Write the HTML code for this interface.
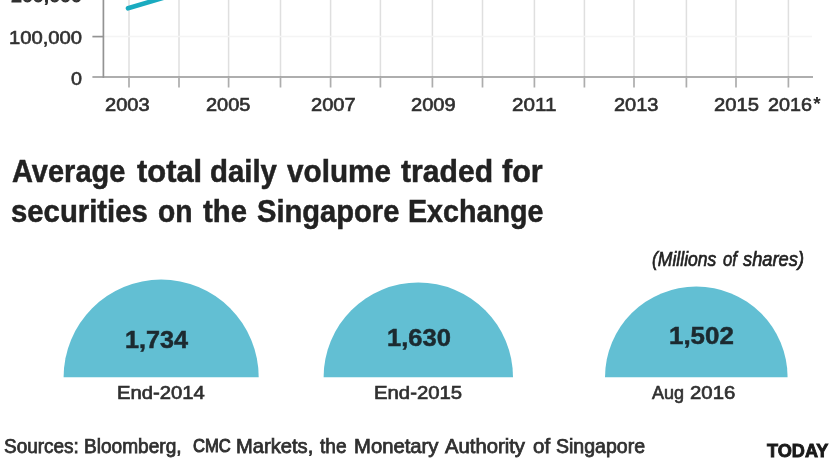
<!DOCTYPE html>
<html><head><meta charset="utf-8">
<style>
html,body{margin:0;padding:0;background:#fff;}
body{width:830px;height:468px;overflow:hidden;position:relative;font-family:"Liberation Sans",sans-serif;}
#wrap{position:absolute;left:-12px;top:-12px;width:854px;height:492px;filter:blur(0.75px);}
#in{position:absolute;left:12px;top:12px;width:830px;height:468px;}
.t{position:absolute;white-space:nowrap;line-height:1;transform-origin:0 0;}
svg{position:absolute;left:0;top:0;overflow:visible;}
</style></head><body>
<div id="wrap"><div id="in">
<svg width="830" height="468" viewBox="0 0 830 468">
  <g stroke="#dfdfdf" stroke-width="1.5" fill="none">
    <path d="M129 -12V77M179 -12V77M228.6 -12V77M280.5 -12V77M330.6 -12V77M380.4 -12V77M432.4 -12V77M482.5 -12V77M534.4 -12V77M584.4 -12V77M634 -12V77M686.4 -12V77M736 -12V77M788.4 -12V77"/>
    <path d="M104 36.6H812" stroke="#f4f4f4"/>
  </g>
  <g stroke="#939393" stroke-width="1.7" fill="none">
    <path d="M103.4 -12V77.8"/>
    <path d="M92.4 77H813"/>
    <path d="M92.4 36.6H103.4"/>
    <path stroke="#adadad" d="M129 77.8V87.4M179 77.8V87.4M228.6 77.8V87.4M280.5 77.8V87.4M330.6 77.8V87.4M380.4 77.8V87.4M432.4 77.8V87.4M482.5 77.8V87.4M534.4 77.8V87.4M584.4 77.8V87.4M634 77.8V87.4M686.4 77.8V87.4M736 77.8V87.4M788.4 77.8V87.4"/>
  </g>
  <path d="M128 8.3L192 -10.7" stroke="#1aabc0" stroke-width="4.6" stroke-linecap="round" fill="none"/>
  <g fill="#62bfd3">
    <path d="M63.6 377.3A97.55 97.7 0 0 1 258.7 377.3Z"/>
    <path d="M323.6 377.3A94.7 94.9 0 0 1 513 377.3Z"/>
    <path d="M605 377.3A91.3 90.9 0 0 1 787.6 377.3Z"/>
  </g>
  <text x="813.2" y="110.3" font-family="Liberation Sans" font-size="19" font-weight="bold" fill="#2b2b2b">*</text>
</svg>

<div class="t" style="left:10.50px;top:-13px;font-size:18.6px;color:#303030;transform:scaleX(1.0543);-webkit-text-stroke:1.0px #303030;">200,000</div>
<div class="t" style="left:9.27px;top:28px;font-size:19.09px;color:#303030;transform:scaleX(1.0594);-webkit-text-stroke:0.65px #303030;">100,000</div>
<div class="t" style="left:71.33px;top:69px;font-size:19.09px;color:#303030;transform:scaleX(1.0350);-webkit-text-stroke:0.65px #303030;">0</div>
<div class="t" style="left:105.33px;top:95px;font-size:19.09px;color:#303030;transform:scaleX(1.0507);-webkit-text-stroke:0.65px #303030;">2003</div>
<div class="t" style="left:205.92px;top:95px;font-size:19.09px;color:#303030;transform:scaleX(1.0459);-webkit-text-stroke:0.65px #303030;">2005</div>
<div class="t" style="left:310.72px;top:95px;font-size:19.09px;color:#303030;transform:scaleX(1.0507);-webkit-text-stroke:0.65px #303030;">2007</div>
<div class="t" style="left:410.72px;top:95px;font-size:19.09px;color:#303030;transform:scaleX(1.0507);-webkit-text-stroke:0.65px #303030;">2009</div>
<div class="t" style="left:511.93px;top:95px;font-size:19.09px;color:#303030;transform:scaleX(1.0825);-webkit-text-stroke:0.65px #303030;">2011</div>
<div class="t" style="left:614.33px;top:95px;font-size:19.09px;color:#303030;transform:scaleX(1.0483);-webkit-text-stroke:0.65px #303030;">2013</div>
<div class="t" style="left:714.33px;top:95px;font-size:19.09px;color:#303030;transform:scaleX(1.0602);-webkit-text-stroke:0.65px #303030;">2015</div>
<div class="t" style="left:768.33px;top:95px;font-size:19.09px;color:#303030;transform:scaleX(1.0363);-webkit-text-stroke:0.65px #303030;">2016</div>
<div class="t" style="left:11.85px;top:156px;font-size:31.4px;color:#222;transform:scaleX(0.9234);font-weight:bold;-webkit-text-stroke:0.5px #222;">Average</div>
<div class="t" style="left:136.65px;top:156px;font-size:31.4px;color:#222;transform:scaleX(0.9839);font-weight:bold;-webkit-text-stroke:0.5px #222;">total</div>
<div class="t" style="left:210.31px;top:156px;font-size:31.4px;color:#222;transform:scaleX(0.9356);font-weight:bold;-webkit-text-stroke:0.5px #222;">daily</div>
<div class="t" style="left:287.25px;top:156px;font-size:31.4px;color:#222;transform:scaleX(0.9457);font-weight:bold;-webkit-text-stroke:0.5px #222;">volume</div>
<div class="t" style="left:401.25px;top:156px;font-size:31.4px;color:#222;transform:scaleX(0.9593);font-weight:bold;-webkit-text-stroke:0.5px #222;">traded</div>
<div class="t" style="left:502.25px;top:156px;font-size:31.4px;color:#222;transform:scaleX(0.9729);font-weight:bold;-webkit-text-stroke:0.5px #222;">for</div>
<div class="t" style="left:11.32px;top:196px;font-size:31.4px;color:#222;transform:scaleX(0.9337);font-weight:bold;-webkit-text-stroke:0.5px #222;">securities</div>
<div class="t" style="left:158.35px;top:196px;font-size:31.4px;color:#222;transform:scaleX(0.8984);font-weight:bold;-webkit-text-stroke:0.5px #222;">on</div>
<div class="t" style="left:203.25px;top:196px;font-size:31.4px;color:#222;transform:scaleX(0.9329);font-weight:bold;-webkit-text-stroke:0.5px #222;">the</div>
<div class="t" style="left:256.85px;top:196px;font-size:31.4px;color:#222;transform:scaleX(0.9273);font-weight:bold;-webkit-text-stroke:0.5px #222;">Singapore</div>
<div class="t" style="left:408.42px;top:196px;font-size:31.4px;color:#222;transform:scaleX(0.9127);font-weight:bold;-webkit-text-stroke:0.5px #222;">Exchange</div>
<div class="t" style="left:652.33px;top:249px;font-size:20.09px;color:#222;transform:scaleX(0.8745);-webkit-text-stroke:0.65px #222;font-style:italic;">(Millions</div>
<div class="t" style="left:723.33px;top:249px;font-size:20.09px;color:#222;transform:scaleX(0.8322);-webkit-text-stroke:0.65px #222;font-style:italic;">of</div>
<div class="t" style="left:743.33px;top:249px;font-size:20.09px;color:#222;transform:scaleX(0.9108);-webkit-text-stroke:0.65px #222;font-style:italic;">shares)</div>
<div class="t" style="left:125.48px;top:329px;font-size:23.6px;color:#1c2a30;transform:scaleX(1.0670);font-weight:bold;-webkit-text-stroke:0.5px #1c2a30;">1,734</div>
<div class="t" style="left:386.67px;top:327px;font-size:23.6px;color:#1c2a30;transform:scaleX(1.0808);font-weight:bold;-webkit-text-stroke:0.5px #1c2a30;">1,630</div>
<div class="t" style="left:668.65px;top:325px;font-size:23.6px;color:#1c2a30;transform:scaleX(1.0981);font-weight:bold;-webkit-text-stroke:0.5px #1c2a30;">1,502</div>
<div class="t" style="left:117.23px;top:384px;font-size:18.49px;color:#303030;transform:scaleX(1.0946);-webkit-text-stroke:0.65px #303030;">End-2014</div>
<div class="t" style="left:374.23px;top:384px;font-size:18.49px;color:#303030;transform:scaleX(1.0997);-webkit-text-stroke:0.65px #303030;">End-2015</div>
<div class="t" style="left:652.33px;top:384px;font-size:18.49px;color:#303030;transform:scaleX(0.9737);-webkit-text-stroke:0.65px #303030;">Aug</div>
<div class="t" style="left:690.33px;top:384px;font-size:18.49px;color:#303030;transform:scaleX(1.1006);-webkit-text-stroke:0.65px #303030;">2016</div>
<div class="t" style="left:4.12px;top:437px;font-size:19.45px;color:#303030;transform:scaleX(0.9760);-webkit-text-stroke:0.75px #303030;">Sources:</div>
<div class="t" style="left:83.89px;top:437px;font-size:19.45px;color:#303030;transform:scaleX(0.9820);-webkit-text-stroke:0.75px #303030;">Bloomberg,</div>
<div class="t" style="left:192.50px;top:436px;font-size:19.1px;color:#303030;transform:scaleX(0.8697);-webkit-text-stroke:1.0px #303030;">CMC</div>
<div class="t" style="left:236.34px;top:437px;font-size:19.45px;color:#303030;transform:scaleX(1.0364);-webkit-text-stroke:0.75px #303030;">Markets,</div>
<div class="t" style="left:319.88px;top:437px;font-size:19.45px;color:#303030;transform:scaleX(0.9824);-webkit-text-stroke:0.75px #303030;">the</div>
<div class="t" style="left:354.33px;top:437px;font-size:19.45px;color:#303030;transform:scaleX(1.0429);-webkit-text-stroke:0.75px #303030;">Monetary</div>
<div class="t" style="left:445.38px;top:437px;font-size:19.45px;color:#303030;transform:scaleX(1.0424);-webkit-text-stroke:0.75px #303030;">Authority</div>
<div class="t" style="left:532.88px;top:437px;font-size:19.45px;color:#303030;transform:scaleX(1.0559);-webkit-text-stroke:0.75px #303030;">of</div>
<div class="t" style="left:555.88px;top:437px;font-size:19.45px;color:#303030;transform:scaleX(1.0050);-webkit-text-stroke:0.75px #303030;">Singapore</div>
<div class="t" style="left:767.15px;top:442px;font-size:18.54px;color:#1a1a1a;transform:scaleX(0.9770);font-weight:bold;-webkit-text-stroke:0.9px #1a1a1a;">TODAY</div>
</div></div>
</body></html>
